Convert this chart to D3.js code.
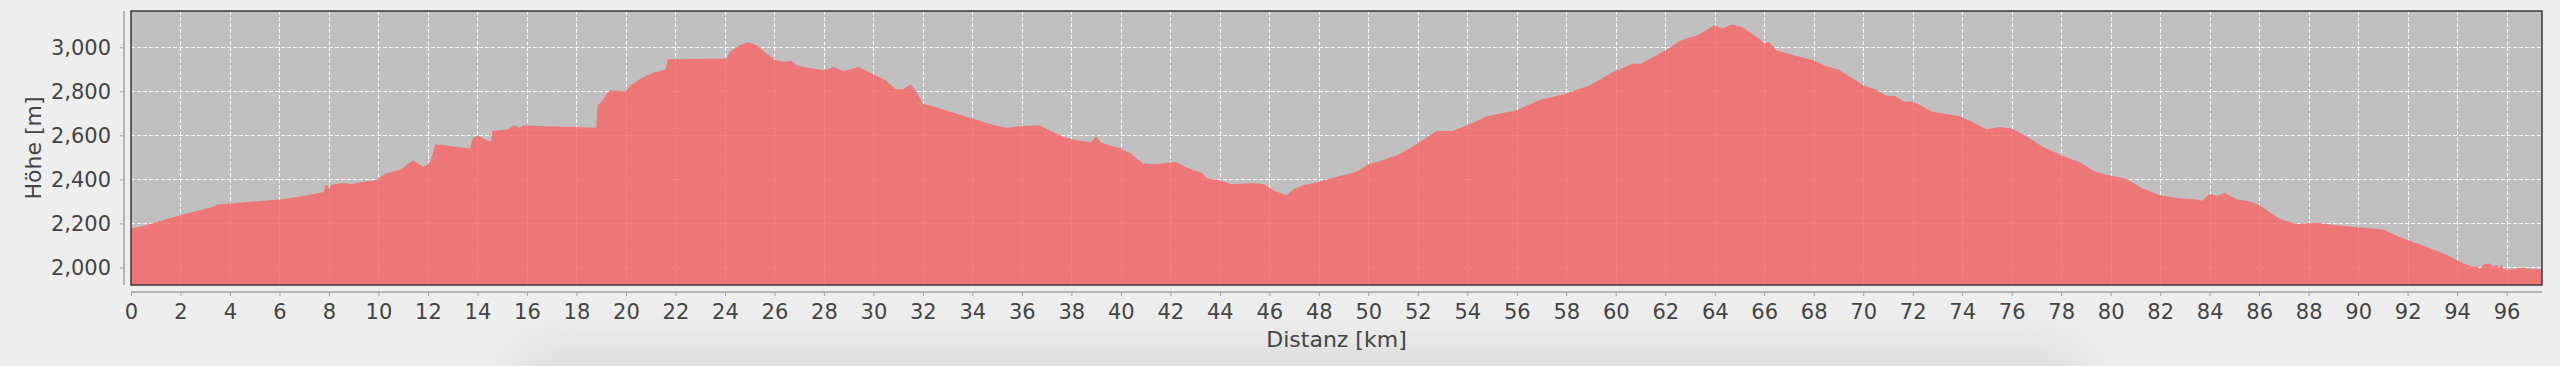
<!DOCTYPE html>
<html><head><meta charset="utf-8">
<script src="https://cdn.jsdelivr.net/npm/d3@7"></script>
<style>
html,body{margin:0;padding:0;background:#eeeeee;}
svg{display:block;}
</style></head>
<body>
<svg id="chart" width="2560" height="366"></svg>
<script>
const distanceKm = [0,0.6,2.0,3.4,3.45,4.0,6.0,6.8,7.8,7.83,7.95,8.0,8.05,8.2,8.6,8.9,9.3,9.9,10.3,10.9,11.4,11.8,11.9,12.1,12.3,13.7,13.8,14.0,14.55,14.6,15.2,15.5,15.7,15.9,16.5,18.0,18.8,18.85,19.0,19.35,19.96,20.2,20.6,21.1,21.6,21.7,24.07,24.2,24.6,24.94,25.3,25.7,26.0,26.35,26.7,26.9,27.3,27.97,28.4,28.8,29.4,30.0,30.5,30.9,31.2,31.5,31.7,32.0,32.4,33.1,34.0,34.9,35.4,36.05,36.7,37.1,37.7,38.3,38.8,39.0,39.2,40.0,40.4,40.9,41.4,42.2,42.6,43.3,43.5,44.0,44.5,45.35,45.8,46.2,46.7,46.97,47.4,48.0,48.85,49.25,49.65,50.0,50.6,51.3,52.0,52.75,53.4,54.0,54.8,56.0,56.9,58.0,58.95,59.9,60.7,61.0,62.0,62.65,63.3,64.0,64.3,64.7,65.1,65.8,66.0,66.2,66.5,67.2,68.0,68.5,69.0,70.0,70.5,70.9,71.3,71.7,72.0,72.8,73.9,74.4,75.0,75.5,76.0,76.6,77.25,78.0,78.7,79.4,79.95,80.6,81.3,82.0,82.8,83.5,83.7,84.0,84.3,84.6,85.1,85.6,86.0,86.8,87.5,88.3,89.1,90.0,91.0,91.8,92.6,93.6,94.2,94.6,94.85,94.9,95.1,95.3,95.5,95.6,95.7,95.8,95.9,96.3,96.6,97.0,97.43];
const elevationM = [2177,2192,2237,2278,2286,2290,2309,2321,2343,2374,2372,2354,2372,2378,2383,2379,2388,2396,2427,2445,2487,2457,2462,2480,2560,2540,2585,2599,2570,2620,2626,2646,2635,2646,2643,2638,2634,2737,2752,2805,2800,2828,2858,2884,2899,2946,2949,2979,3009,3023,3009,2971,2944,2934,2938,2918,2908,2896,2911,2891,2911,2878,2850,2809,2808,2832,2805,2744,2732,2707,2676,2646,2635,2642,2646,2623,2593,2575,2570,2596,2566,2540,2517,2472,2469,2480,2457,2427,2404,2396,2378,2384,2378,2348,2328,2354,2374,2389,2415,2425,2442,2469,2487,2517,2563,2620,2620,2646,2687,2714,2760,2790,2828,2888,2926,2924,2986,3032,3055,3100,3085,3104,3092,3039,3017,3024,2986,2964,2941,2914,2899,2828,2808,2782,2778,2752,2755,2707,2687,2661,2628,2638,2631,2596,2548,2510,2480,2434,2419,2404,2359,2328,2313,2309,2303,2333,2324,2339,2309,2301,2283,2222,2197,2203,2192,2182,2172,2132,2101,2056,2021,2003,2003,1991,2015,2018,2003,2011,2000,2011,1991,1991,2000,1991,1991];
const xTickValues = d3.range(0, 97, 2);
const yTickValues = [2000, 2200, 2400, 2600, 2800, 3000];
const xLabel = "Distanz [km]";
const yLabel = "Höhe [m]";

const data = distanceKm.map((d, i) => ({km: d, m: elevationM[i]}));
const svg = d3.select("#chart");
const L = 131, R = 2542, T = 11, B = 285;
const x = d3.scaleLinear().domain([0, 97.43]).range([L, R]);
const y = d3.scaleLinear().domain([1920, 3165]).range([B, T]);

// soft shadow at the bottom
const defs = svg.append("defs");
const f = defs.append("filter").attr("id","blur").attr("x","-20%").attr("y","-100%").attr("width","140%").attr("height","300%");
f.append("feGaussianBlur").attr("stdDeviation", 28);
svg.append("rect").attr("x", 520).attr("y", 352).attr("width", 1560).attr("height", 80)
  .attr("fill", "#000").attr("opacity", 0.09).attr("filter","url(#blur)");

// plot background
svg.append("rect").attr("x", L).attr("y", T).attr("width", R - L).attr("height", B - T).attr("fill", "#c0c0c0");

// grid
const grid = svg.append("g").attr("stroke", "#ffffff").attr("stroke-width", 1).attr("stroke-dasharray", "4,2").attr("opacity", 0.9);
grid.selectAll("line.v").data(xTickValues.filter(d => d > 0)).join("line")
  .attr("x1", d => Math.round(x(d)) + 0.5).attr("x2", d => Math.round(x(d)) + 0.5).attr("y1", T).attr("y2", B);
grid.selectAll("line.h").data(yTickValues).join("line")
  .attr("y1", d => Math.round(y(d)) + 0.5).attr("y2", d => Math.round(y(d)) + 0.5).attr("x1", L).attr("x2", R);

// area
const area = d3.area().x(d => x(d.km)).y0(B).y1(d => y(d.m)).curve(d3.curveLinear);
svg.append("path").datum(data).attr("d", area).attr("fill", "rgb(246,102,102)").attr("fill-opacity", 0.82);

// plot border
svg.append("rect").attr("x", L).attr("y", T).attr("width", R - L).attr("height", B - T)
  .attr("fill", "none").attr("stroke", "#3a3a3a").attr("stroke-width", 1.5);

const font = "'DejaVu Sans', sans-serif";
// y axis
const yAxis = d3.axisLeft(y).tickValues(yTickValues).tickFormat(d3.format(",")).tickSize(4).tickSizeOuter(0).tickPadding(9);
const gy = svg.append("g").attr("transform", "translate(124,0)").call(yAxis);
gy.select(".domain").attr("stroke", "#a0a0a0").attr("stroke-width", 1.5).attr("d", `M0,${T}V${B}`);
gy.selectAll(".tick line").attr("stroke", "#a0a0a0");
gy.selectAll(".tick text").attr("fill", "#444").style("font-family", font).style("font-size", "21px");

// x axis
const xAxis = d3.axisBottom(x).tickValues(xTickValues).tickFormat(d3.format("d")).tickSize(4).tickSizeOuter(0).tickPadding(8);
const gx = svg.append("g").attr("transform", "translate(0,292)").call(xAxis);
gx.select(".domain").attr("stroke", "#a0a0a0").attr("stroke-width", 1.5).attr("d", `M${L},0H${R}`);
gx.selectAll(".tick line").attr("stroke", "#a0a0a0");
gx.selectAll(".tick text").attr("fill", "#444").style("font-family", font).style("font-size", "21px");

// axis labels
svg.append("text").attr("x", (L + R) / 2).attr("y", 347).attr("text-anchor", "middle")
  .attr("fill", "#444").style("font-family", font).style("font-size", "22px").text(xLabel);
svg.append("text").attr("transform", `translate(41,${(T + B) / 2}) rotate(-90)`).attr("text-anchor", "middle")
  .attr("fill", "#444").style("font-family", font).style("font-size", "22px").text(yLabel);
</script>
</body></html>
